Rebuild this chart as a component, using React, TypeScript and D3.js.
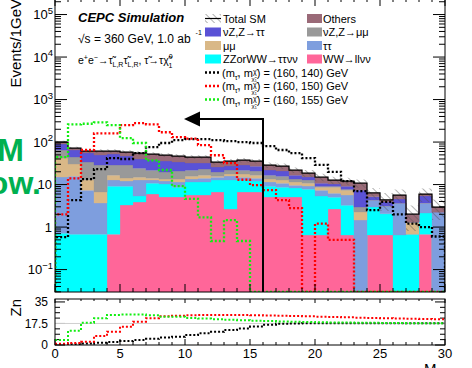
import React from "react";
import * as d3 from "d3";

const W = 472;
const H = 368;
const FONT = "'Liberation Sans', Arial, Helvetica, sans-serif";

// 1 GeV bins from 0 to 30
const binEdges = d3.range(0, 31);

// Background yields per bin (events / 1 GeV)
const wwLLvv = [0, 0, 0, 0, 0.68, 3.29, 3.87, 5.97, 5.08, 5.08, 5.66, 5.66, 6.66, 2.65, 6.66, 6.66, 5.08, 5.08, 5.08, 0.65, 0.65, 2.65, 0.65, 0, 0.65, 0.65, 0, 0, 0.68, 0];
const zzOrWWtautauvv = [0.72, 0.68, 0.68, 0.68, 8.5, 5.9, 1.5, 4.8, 5.2, 3.6, 5.8, 5.8, 6.1, 10.2, 6.1, 5.4, 4.1, 3.6, 3.2, 7.15, 4.7, 2.4, 2.6, 0, 2.3, 1.4, 0.65, 0.68, 1.45, 0];
const tautau = [14.3, 15.1, 6.7, 3.0, 3.6, 2.9, 7.4, 2.0, 1.8, 2.8, 2.0, 2.7, 2.2, 3.0, 2.2, 2.1, 2.3, 2.1, 1.4, 1.4, 2.0, 1.2, 2.4, 1.46, 1.4, 1.1, 3.0, 0, 1.55, 2.25];
const mumu = [27, 14.6, 5.4, 3.0, 3.9, 2.1, 2.2, 1.4, 1.4, 2.0, 2.3, 2.5, 0.8, 1.9, 2.7, 2.5, 2.0, 2.0, 1.8, 1.6, 1.3, 2.4, 1.7, 0.8, 0, 0, 0, 0.63, 0, 0];
const nuZmumu = [22.8, 14, 21, 22.1, 12.1, 14.6, 9.4, 7.7, 6.2, 7.3, 6.1, 6.5, 3.9, 4.2, 4.2, 4.1, 3.2, 3.0, 2.0, 2.0, 0.5, 0.5, 0.4, 0.7, 0, 0, 0, 0, 0, 0];
const nuZtautau = [25, 20.4, 21.3, 20.6, 23.4, 18, 15.4, 15.8, 16, 13, 10.1, 8.8, 6.1, 5.3, 6.9, 6.4, 5.2, 5.0, 3.2, 2.2, 1.6, 1.1, 1.4, 4.4, 0.8, 0.75, 0.9, 0, 1.7, 0];
const others = [10.2, 7.4, 6.3, 12, 9.2, 11.4, 15.3, 14.5, 13.7, 13, 12.4, 12.4, 8, 8.5, 8.9, 8.5, 6.9, 6.4, 5.2, 3.6, 4.2, 2.5, 2.9, 3.4, 1.2, 0.45, 1.1, 0.7, 0.6, 0.7];

// Relative uncertainty on the total SM prediction
const totalErr = [0.08, 0.08, 0.1, 0.1, 0.1, 0.1, 0.1, 0.1, 0.1, 0.1, 0.1, 0.1, 0.12, 0.12, 0.12, 0.12, 0.15, 0.15, 0.15, 0.18, 0.2, 0.2, 0.2, 0.22, 0.3, 0.45, 0.35, 0.6, 0.35, 0.5];

// Signal yields per bin
const sig140 = [0.58, 4.3, 13.5, 23, 42, 40, 55, 76, 95, 111, 117, 117, 111, 105, 100, 95, 80, 65, 55, 42, 29, 20, 12, 7, 2.5, 3.9, 2, 1.2, 1, 0.6];
const sig150 = [2, 14, 65, 160, 160, 250, 280, 260, 170, 130, 120, 85, 49, 32, 13, 9.7, 7.4, 4.3, 2.8, 0, 1.2, 0.5, 0.5, 0, 0, 0, 0, 0, 0, 0];
const sig155 = [44, 260, 270, 290, 250, 124, 95, 37, 22, 9.2, 4.6, 1.7, 0.47, 1.46, 0.47, 0, 0, 0, 0, 0, 0, 0, 0, 0, 0, 0, 0, 0, 0, 0];

// Significance Zn for an upper cut at each bin edge
const zn140 = [0.3, 0.6, 1.2, 1.9, 2.5, 3.2, 4, 5, 6, 6.8, 8.2, 9.6, 10.8, 12.2, 13.4, 15, 16.5, 17.2, 17.5, 17.6, 17.6, 17.7, 17.7, 17.7, 17.7, 17.7, 17.7, 17.6, 17.6, 17.6];
const zn150 = [1, 1.6, 2.7, 7.3, 10.8, 14.9, 19, 21.7, 23.3, 23.8, 24.2, 24.4, 24.4, 24.4, 24.4, 24.2, 24, 23.8, 23.5, 23.3, 23, 22.8, 22.5, 22.2, 22, 21.8, 21.6, 21.4, 21.2, 21];
const zn155 = [4, 11.5, 18, 21.7, 24.4, 24.7, 24.7, 24.2, 23, 23, 22, 21.5, 21, 20.5, 20.2, 19.8, 19.5, 19.2, 19, 18.8, 18.5, 18.3, 18.2, 18, 18, 17.9, 17.8, 17.7, 17.6, 17.6];

const xTickLabels = [0, 5, 10, 15, 20, 25, 30];
const yDecades = [-1, 0, 1, 2, 3, 4, 5];
const znTickLabels = [0, 17.5, 35];

const layers = [
  { key: "ww", color: "#ff6699", values: wwLLvv },
  { key: "zz", color: "#00ffff", values: zzOrWWtautauvv },
  { key: "tt", color: "#7e9ede", values: tautau },
  { key: "mm", color: "#d9b887", values: mumu },
  { key: "nzmm", color: "#999999", values: nuZmumu },
  { key: "nztt", color: "#5a52d6", values: nuZtautau },
  { key: "oth", color: "#9a6a78", values: others },
];

const signals = [
  { color: "#000000", main: sig140, zn: zn140, mass: "140" },
  { color: "#ff0000", main: sig150, zn: zn150, mass: "150" },
  { color: "#11ee11", main: sig155, zn: zn155, mass: "155" },
];

export default function App() {
  const xL = 55, xR = 445, yTop = -2, yBot = 292;
  const rTop = 299, rBot = 345;
  const yMin = 0.0297, yMax = 245000;

  const x = d3.scaleLinear().domain([0, 30]).range([xL, xR]);
  const y = d3.scaleLog().domain([yMin, yMax]).range([yBot, yTop]);
  const ly = (v: number) => y(Math.max(v, yMin));
  const r = d3.scaleLinear().domain([0, 37.4]).range([rBot, rTop]);

  const nb = binEdges.length - 1;
  const rows = d3.range(nb).map((i) => {
    const o: any = { bin: binEdges[i] };
    layers.forEach((l) => (o[l.key] = l.values[i]));
    return o;
  });
  const stacked = d3.stack<any>().keys(layers.map((l) => l.key))(rows);

  const area = d3
    .area<any>()
    .x((d) => x(d.x))
    .y0((d) => ly(d.lo))
    .y1((d) => ly(d.hi));

  const stepBand = (lo: number[], hi: number[]) =>
    d3.range(nb).flatMap((i) => [
      { x: binEdges[i], lo: lo[i], hi: hi[i] },
      { x: binEdges[i + 1], lo: lo[i], hi: hi[i] },
    ]);

  const total = stacked[stacked.length - 1].map((s) => s[1]);

  const stepLine = (vals: number[], sy: (v: number) => number, base: number) => {
    const pts: [number, number][] = [[x(binEdges[0]), base]];
    vals.forEach((v, i) => {
      pts.push([x(binEdges[i]), sy(v)]);
      pts.push([x(binEdges[i + 1]), sy(v)]);
    });
    pts.push([x(binEdges[nb]), base]);
    return d3.line()(pts) as string;
  };

  const znLine = (vals: number[]) => {
    const pts: [number, number][] = [];
    vals.forEach((v, i) => {
      pts.push([x(binEdges[i]), r(v)]);
      pts.push([x(binEdges[i + 1]), r(v)]);
    });
    return d3.line()(pts) as string;
  };

  // log-axis minor ticks
  const minorLog: number[] = [];
  for (let k = -2; k <= 5; k++) {
    for (let m = 2; m <= 9; m++) {
      const v = m * Math.pow(10, k);
      if (v > yMin && v < yMax) minorLog.push(v);
    }
  }
  const xMinor = d3.range(0, 31).filter((v) => v % 5 !== 0);
  const znMinor = d3.range(0, 9).map((i) => i * 4.375).filter((v) => v % 17.5 !== 0);

  const tickPaths: string[] = [];
  // main panel: left/right
  yDecades.forEach((k) => {
    const yy = y(Math.pow(10, k));
    tickPaths.push(`M${xL},${yy}h12M${xR},${yy}h-12`);
  });
  minorLog.forEach((v) => {
    const yy = y(v);
    tickPaths.push(`M${xL},${yy}h6M${xR},${yy}h-6`);
  });
  // main + ratio panel: top/bottom
  xTickLabels.forEach((v) => {
    const xx = x(v);
    tickPaths.push(`M${xx},${yBot}v-8M${xx},${yTop}v8M${xx},${rBot}v-6M${xx},${rTop}v4`);
  });
  xMinor.forEach((v) => {
    const xx = x(v);
    tickPaths.push(`M${xx},${yBot}v-4M${xx},${yTop}v4M${xx},${rBot}v-3M${xx},${rTop}v2`);
  });
  // ratio panel: left/right
  znTickLabels.forEach((v) => {
    const yy = r(v);
    tickPaths.push(`M${xL},${yy}h10M${xR},${yy}h-10`);
  });
  znMinor.forEach((v) => {
    const yy = r(v);
    tickPaths.push(`M${xL},${yy}h5M${xR},${yy}h-5`);
  });

  const dot = { strokeWidth: 2.3, strokeDasharray: "2 2" };

  const legendL = [
    { label: "νZ,Z→ττ", color: "#5a52d6" },
    { label: "μμ", color: "#d9b887" },
    { label: "ZZorWW→ττνν", color: "#00ffff" },
  ];
  const legendR = [
    { label: "Others", color: "#9a6a78" },
    { label: "νZ,Z→μμ", color: "#999999" },
    { label: "ττ", color: "#7e9ede" },
    { label: "WW→llνν", color: "#ff6699" },
  ];
  const rowY = (i: number) => 18.5 + i * 13.5;

  return (
    <svg
      width={W}
      height={H}
      style={{ position: "absolute", left: 0, top: 0, background: "#fff" }}
      fontFamily={FONT}
    >
      <defs>
        <clipPath id="mainClip">
          <rect x={xL} y={yTop} width={xR - xL} height={yBot - yTop} />
        </clipPath>
        <clipPath id="znClip">
          <rect x={xL} y={rTop} width={xR - xL} height={rBot - rTop} />
        </clipPath>
        <pattern id="hatch" width={5} height={5} patternUnits="userSpaceOnUse" patternTransform="rotate(-45)">
          <line x1={0} y1={0} x2={0} y2={5} stroke="#555" strokeWidth={0.9} />
        </pattern>
      </defs>

      <rect x={0} y={0} width={W} height={H} fill="#fff" />

      {/* stacked backgrounds */}
      <g clipPath="url(#mainClip)">
        {stacked.map((s, li) => (
          <path
            key={layers[li].key}
            d={area(stepBand(s.map((d) => d[0]), s.map((d) => d[1]))) as string}
            fill={layers[li].color}
            stroke={layers[li].color}
            strokeWidth={0.3}
          />
        ))}
        <path
          d={area(stepBand(total.map((t, i) => t * (1 - totalErr[i])), total.map((t, i) => t * (1 + totalErr[i])))) as string}
          fill="url(#hatch)"
        />
        <path d={stepLine(total, ly, ly(0))} fill="none" stroke="#000" strokeWidth={1.2} />
        {signals.map((s) => (
          <path key={s.mass} d={stepLine(s.main, ly, ly(0))} fill="none" stroke={s.color} {...dot} />
        ))}
      </g>

      {/* cut arrow */}
      <g stroke="#000" strokeWidth={2} fill="none">
        <path d={`M${x(16)},${yBot}V119H199`} />
      </g>
      <path d="M184,119L200,111.5L200,126.5Z" fill="#000" />

      {/* frames */}
      <rect x={xL} y={yTop} width={xR - xL} height={yBot - yTop} fill="none" stroke="#000" strokeWidth={1} />
      <path d={tickPaths.join("")} stroke="#000" strokeWidth={1} fill="none" />

      {/* overlay note */}
      <g fill="#00b050" fontWeight="bold" fontSize={32}>
        <text x={24} y={161} textAnchor="end">
          M
        </text>
        <text x={41} y={194} textAnchor="end">
          ow.
        </text>
      </g>

      {/* y tick labels */}
      {yDecades.map((k) => {
        const yy = y(Math.pow(10, k)) + 4.6;
        if (k === 0)
          return (
            <text key={k} x={52} y={yy} textAnchor="end" fontSize={13}>
              1
            </text>
          );
        if (k === 1)
          return (
            <text key={k} x={52} y={yy} textAnchor="end" fontSize={13}>
              10
            </text>
          );
        return (
          <text key={k} x={53} y={yy} textAnchor="end" fontSize={13}>
            10
            <tspan dy={-5.5} fontSize={9.5}>
              {k < 0 ? `−${-k}` : `${k}`}
            </tspan>
          </text>
        );
      })}

      <text transform="translate(21,-1) rotate(-90)" textAnchor="end" fontSize={15}>
        Events/1GeV
      </text>

      {/* header text */}
      <text x={78} y={22} fontSize={13} fontWeight="bold" fontStyle="italic">
        CEPC Simulation
      </text>
      <text x={78} y={42.5} fontSize={12}>
        √s = 360 GeV, 1.0 ab
        <tspan dx={5} dy={-8} fontSize={7}>
          -1
        </tspan>
      </text>
      <text x={78} y={64} fontSize={10.5}>
        e<tspan dy={-4} fontSize={7}>+</tspan>
        <tspan dy={4}>e</tspan>
        <tspan dy={-4} fontSize={7}>−</tspan>
        <tspan dy={4}>→τ̃</tspan>
        <tspan dy={3} fontSize={7}>L,R</tspan>
        <tspan dy={-3}>τ̃</tspan>
        <tspan dy={3} fontSize={7}>L,R</tspan>
        <tspan dy={-3}>, τ̃→τχ̃</tspan>
        <tspan dy={-5} fontSize={7}>0</tspan>
        <tspan dx={-4} dy={9} fontSize={7}>1</tspan>
      </text>

      {/* legend */}
      <g fontSize={11}>
        <rect x={205} y={rowY(0) - 4.5} width={16} height={9} fill="url(#hatch)" />
        <line x1={205} x2={221} y1={rowY(0)} y2={rowY(0)} stroke="#000" strokeWidth={1.2} />
        <text x={223} y={rowY(0) + 4}>Total SM</text>
        {legendL.map((l, i) => (
          <g key={l.label}>
            <rect x={205} y={rowY(i + 1) - 4.5} width={16} height={9} fill={l.color} />
            <text x={223} y={rowY(i + 1) + 4}>
              {l.label}
            </text>
          </g>
        ))}
        {legendR.map((l, i) => (
          <g key={l.label}>
            <rect x={307} y={rowY(i) - 4.5} width={15} height={9} fill={l.color} />
            <text x={323} y={rowY(i) + 4}>
              {l.label}
            </text>
          </g>
        ))}
        {signals.map((s, i) => {
          const yy = rowY(i + 4);
          return (
            <g key={s.mass}>
              <line x1={205} x2={221} y1={yy} y2={yy} stroke={s.color} {...dot} />
              <text x={222} y={yy + 4}>
                (m
                <tspan dy={3} fontSize={7}>
                  τ̃
                </tspan>
                <tspan dy={-3}>, m</tspan>
                <tspan dy={-3} fontSize={7}>
                  χ̃
                </tspan>
                <tspan dx={-5} dy={7} fontSize={6}>
                  χ̃₁
                </tspan>
                <tspan dy={-4}>{`) = (160, ${s.mass}) GeV`}</tspan>
              </text>
            </g>
          );
        })}
      </g>

      {/* Zn panel */}
      <line x1={xL} x2={xR} y1={r(17.5)} y2={r(17.5)} stroke="#cfcfcf" strokeWidth={1} />
      <g clipPath="url(#znClip)">
        {signals.map((s) => (
          <path key={s.mass} d={znLine(s.zn)} fill="none" stroke={s.color} strokeWidth={2} strokeDasharray="2 2" />
        ))}
      </g>
      <rect x={xL} y={rTop} width={xR - xL} height={rBot - rTop} fill="none" stroke="#000" strokeWidth={1} />
      {znTickLabels.map((v) => (
        <text key={v} x={48} y={r(v) + 4.3} textAnchor="end" fontSize={12}>
          {v}
        </text>
      ))}
      <text transform="translate(21,299) rotate(-90)" textAnchor="end" fontSize={15}>
        Zn
      </text>

      {xTickLabels.map((v) => (
        <text key={v} x={x(v)} y={357.5} textAnchor="middle" fontSize={13}>
          {v}
        </text>
      ))}
      <text x={424} y={374} fontSize={15}>
        M
      </text>
    </svg>
  );
}
